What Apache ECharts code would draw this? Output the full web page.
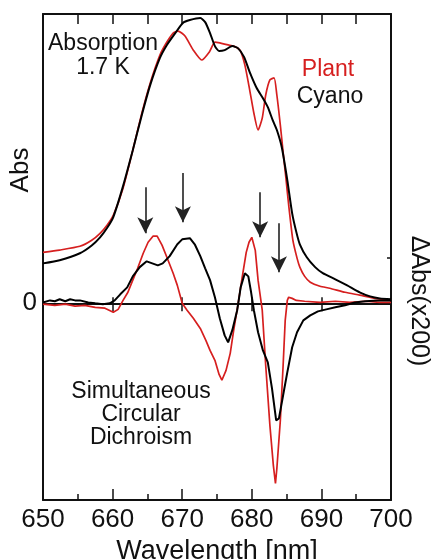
<!DOCTYPE html>
<html>
<head>
<meta charset="utf-8">
<script src="https://cdn.jsdelivr.net/npm/echarts@6/dist/echarts.min.js"></script>
<style>
html,body{margin:0;padding:0;background:#fff}
#chart{width:432px;height:559px}
</style>
</head>
<body>
<div id="chart"></div>
<script>
// absorption at 1.7 K, plant (red) and cyano (black)
var plantAbsNm = [650,652.4,655.3,657.0,658.2,659.2,660.1,661.5,662.9,664.2,665.4,666.8,667.8,668.7,669.4,670.4,671.6,672.8,673.9,674.7,675.4,676.6,677.4,678.3,679.0,679.7,680.3,680.9,681.5,682.0,682.6,683.2,683.6,684.1,684.5,684.9,685.3,685.9,686.5,686.9,687.6,688.4,689.8,691.2,693.4,695.5,697.7,700];
var plantAbs   = [0.176,0.184,0.197,0.218,0.242,0.270,0.304,0.398,0.529,0.657,0.761,0.858,0.903,0.934,0.941,0.924,0.875,0.841,0.869,0.903,0.900,0.893,0.889,0.875,0.824,0.737,0.657,0.599,0.640,0.720,0.772,0.779,0.720,0.616,0.522,0.433,0.339,0.218,0.156,0.125,0.093,0.073,0.059,0.052,0.038,0.028,0.017,0.010];

var cyanoAbsNm = [650,652.4,655.3,657.0,658.2,659.2,660.1,661.5,662.9,664.2,665.4,666.8,667.8,669.0,670.1,671.1,672.6,673.3,674.0,674.7,675.3,676.1,677.2,678.0,678.9,679.7,680.7,681.6,682.3,683.0,683.6,684.3,685.1,685.8,686.4,686.9,687.9,689.1,690.2,692.0,693.7,695.5,697.0,698.4,700];
var cyanoAbs   = [0.138,0.149,0.173,0.200,0.228,0.260,0.298,0.405,0.529,0.651,0.754,0.848,0.893,0.934,0.969,0.979,0.986,0.972,0.934,0.889,0.872,0.875,0.889,0.882,0.851,0.799,0.744,0.709,0.678,0.633,0.599,0.540,0.426,0.311,0.246,0.204,0.159,0.125,0.104,0.083,0.062,0.038,0.024,0.017,0.014];

// simultaneous circular dichroism
var plantCdNm = [650,651.7,653.2,654.6,656.0,657.5,658.9,660.1,660.8,661.5,662.2,662.9,663.6,664.4,665.1,665.8,666.4,667.1,667.8,668.7,669.3,670.0,670.7,671.6,672.6,673.4,674.0,674.7,675.3,675.7,676.3,676.9,677.4,678.0,678.6,679.2,679.6,680.0,680.5,680.9,681.5,682.0,682.6,683.1,683.4,683.6,684.1,684.5,684.8,685.1,685.3,685.8,686.4,687.6,689.8,692.0,694.1,696.3,698.4,700];
var plantCd   = [-0.003,-0.007,-0.003,-0.010,-0.007,-0.014,-0.017,-0.031,-0.021,0.010,0.038,0.080,0.121,0.173,0.211,0.232,0.232,0.201,0.159,0.104,0.062,0,-0.024,-0.052,-0.087,-0.128,-0.163,-0.197,-0.246,-0.266,-0.232,-0.173,-0.093,-0.007,0.087,0.176,0.211,0.228,0.183,0.080,-0.024,-0.215,-0.422,-0.561,-0.623,-0.571,-0.405,-0.215,-0.059,0.010,0.021,0.017,0.010,0.007,0.003,0.007,0.003,0.007,0.003,0.003];

var cyanoCdNm = [650,651.0,651.7,652.4,653.2,653.9,654.6,655.3,656.5,657.5,658.6,659.6,660.3,661.1,662.1,662.9,663.9,664.9,665.7,666.5,667.2,668.2,669.3,670.0,671.1,671.8,672.6,673.3,674.0,674.7,675.4,676.1,676.6,677.2,677.9,678.4,679.0,679.5,679.9,680.3,680.9,681.6,682.3,682.9,683.5,683.9,684.5,685.1,685.8,686.5,687.4,688.4,689.5,690.7,692.0,693.4,694.8,696.3,698.1,700];
var cyanoCd   = [0.003,0.010,0.007,0.014,0.007,0.014,0.010,0.010,0.003,0,-0.003,0,0.010,0.031,0.055,0.093,0.125,0.145,0.138,0.131,0.138,0.163,0.204,0.221,0.225,0.204,0.163,0.121,0.080,0.021,-0.052,-0.111,-0.135,-0.093,-0.024,0.055,0.104,0.093,0.038,-0.024,-0.100,-0.163,-0.204,-0.294,-0.405,-0.398,-0.318,-0.239,-0.152,-0.100,-0.059,-0.042,-0.028,-0.021,-0.014,-0.007,0.003,0.007,0.010,0.010];

// arrows marking the bands
var arrowNm  = [664.7, 670.1, 681.2, 683.9];
var arrowTop = [0.401, 0.450, 0.384, 0.277];
var arrowEnd = [0.242, 0.280, 0.228, 0.107];

var xMin = 650, xMax = 700;
var yMin = -0.68, yMax = 1.0;
var rightTick = 0.159;

var RED = '#d61f1f';
var FONT = 'Liberation Sans, Arial, Helvetica, sans-serif';

function pairs(xs, ys) {
    var res = [];
    for (var i = 0; i < xs.length; i++) res.push([xs[i], ys[i]]);
    return res;
}

var arrows = [];
for (var i = 0; i < arrowNm.length; i++) {
    arrows.push([{coord: [arrowNm[i], arrowTop[i]]}, {coord: [arrowNm[i], arrowEnd[i]]}]);
}

function lineSeries(name, data, color, width, smooth) {
    return {
        name: name, type: 'line', data: data,
        xAxisIndex: 0, yAxisIndex: 0,
        showSymbol: false, smooth: smooth || false,
        lineStyle: {color: color, width: width},
        itemStyle: {color: color}
    };
}

var chart = echarts.init(document.getElementById('chart'));
var cyanoCdSeries = lineSeries('Cyano CD', pairs(cyanoCdNm, cyanoCd), '#000', 2);
cyanoCdSeries.markLine = {
    silent: true,
    symbol: ['none', 'arrow'],
    symbolSize: [12, 16],
    label: {show: false},
    lineStyle: {color: '#222', width: 1.6, type: 'solid'},
    data: arrows
};

var option = {
    animation: false,
    backgroundColor: '#fff',
    textStyle: {fontFamily: FONT},
    grid: {left: 43, top: 14, right: 41, bottom: 59, containLabel: false, outerBoundsMode: 'none'},
    xAxis: [
        {   // bottom
            type: 'value', position: 'bottom', min: xMin, max: xMax, interval: 10,
            name: 'Wavelength [nm]', nameLocation: 'middle', nameGap: 33,
            nameTextStyle: {fontSize: 27, color: '#111', fontFamily: FONT},
            axisLine: {onZero: false, lineStyle: {color: '#111', width: 2}},
            axisTick: {inside: true, length: 11, lineStyle: {color: '#111', width: 1.5}},
            minorTick: {show: true, splitNumber: 2, length: 6, lineStyle: {color: '#111', width: 1.5}},
            axisLabel: {fontSize: 26, color: '#111', margin: 7, fontFamily: FONT},
            splitLine: {show: false}
        },
        {   // top
            type: 'value', position: 'top', min: xMin, max: xMax, interval: 5,
            axisLine: {onZero: false, lineStyle: {color: '#111', width: 2}},
            axisTick: {inside: true, length: 10, lineStyle: {color: '#111', width: 1.5}},
            axisLabel: {show: false},
            splitLine: {show: false}
        },
        {   // zero line, ticks below
            type: 'value', position: 'bottom', min: xMin, max: xMax, interval: 10,
            axisLine: {onZero: true, lineStyle: {color: '#111', width: 2}},
            axisTick: {inside: false, length: 8, lineStyle: {color: '#111', width: 1.5}},
            axisLabel: {show: false},
            splitLine: {show: false}
        },
        {   // zero line, ticks above
            type: 'value', position: 'bottom', min: xMin, max: xMax, interval: 10,
            axisLine: {onZero: true, lineStyle: {color: '#111', width: 2}},
            axisTick: {inside: true, length: 6, lineStyle: {color: '#111', width: 1.5}},
            axisLabel: {show: false},
            splitLine: {show: false}
        }
    ],
    yAxis: [
        {
            type: 'value', position: 'left', min: yMin, max: yMax,
            axisLine: {lineStyle: {color: '#111', width: 2}},
            axisTick: {show: false},
            axisLabel: {customValues: [0], fontSize: 26, color: '#111', margin: 6, fontFamily: FONT},
            splitLine: {show: false}
        },
        {
            type: 'value', position: 'right', min: yMin, max: yMax,
            axisLine: {lineStyle: {color: '#111', width: 2}},
            axisTick: {customValues: [rightTick], inside: true, length: 4, lineStyle: {color: '#111', width: 1.5}},
            axisLabel: {show: false},
            splitLine: {show: false}
        }
    ],
    series: [
        lineSeries('Plant Abs', pairs(plantAbsNm, plantAbs), RED, 1.7, 0.2),
        lineSeries('Cyano Abs', pairs(cyanoAbsNm, cyanoAbs), '#000', 2, 0.2),
        lineSeries('Plant CD', pairs(plantCdNm, plantCd), RED, 1.7),
        cyanoCdSeries
    ],
    graphic: [
        {type: 'text', x: 21, y: 170, rotation: Math.PI / 2,
         style: {text: 'Abs', fill: '#111', fontSize: 26, fontFamily: FONT, textAlign: 'center', textVerticalAlign: 'middle'}},
        {type: 'text', x: 419, y: 301, rotation: -Math.PI / 2,
         style: {text: 'ΔAbs(x200)', fill: '#111', fontSize: 25, fontFamily: FONT, textAlign: 'center', textVerticalAlign: 'middle'}},
        {type: 'text', x: 103, y: 56,
         style: {text: 'Absorption\n1.7 K', fill: '#111', fontSize: 23, lineHeight: 24, fontFamily: FONT, textAlign: 'center', textVerticalAlign: 'middle'}},
        {type: 'text', x: 328, y: 70,
         style: {text: 'Plant', fill: RED, fontSize: 23, fontFamily: FONT, textAlign: 'center', textVerticalAlign: 'middle'}},
        {type: 'text', x: 330, y: 97,
         style: {text: 'Cyano', fill: '#111', fontSize: 23, fontFamily: FONT, textAlign: 'center', textVerticalAlign: 'middle'}},
        {type: 'text', x: 141, y: 415,
         style: {text: 'Simultaneous\nCircular\nDichroism', fill: '#111', fontSize: 23, lineHeight: 23, fontFamily: FONT, textAlign: 'center', textVerticalAlign: 'middle'}}
    ]
};
chart.setOption(option);

window.onresize = function () {
    chart.resize();
};
</script>
</body>
</html>
